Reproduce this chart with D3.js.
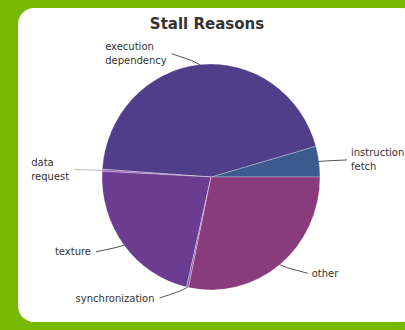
<!DOCTYPE html>
<html>
<head>
<meta charset="utf-8">
<script src="https://cdn.jsdelivr.net/npm/d3@7"></script>
<style>
  html, body { margin: 0; padding: 0; background: #76b900; }
  svg { display: block; }
</style>
</head>
<body>
<svg id="chart" width="405" height="330"></svg>
<script>
// ---- data ----
const title = "Stall Reasons";
const categories = ["instruction fetch", "execution dependency", "data request", "texture", "synchronization", "other"];
const labelLines = [["instruction", "fetch"], ["execution", "dependency"], ["data", "request"], ["texture"], ["synchronization"], ["other"]];
const values = [4.4, 44.5, 0.3, 22.2, 0.3, 28.3];
const colors = ["#3c5a8d", "#4f3e8a", "#9a64ad", "#6b3c90", "#8a5cae", "#8a3b7c"];

const svg = d3.select("#chart");

// panel
svg.append("rect")
  .attr("x", 18).attr("y", 8)
  .attr("width", 400).attr("height", 314)
  .attr("rx", 16).attr("ry", 16)
  .attr("fill", "#ffffff");

svg.append("text")
  .attr("x", 207).attr("y", 29)
  .attr("text-anchor", "middle")
  .attr("font-family", "DejaVu Sans, sans-serif")
  .attr("font-weight", "bold")
  .attr("font-size", 15)
  .attr("fill", "#333")
  .text(title);

const cx = 211, cy = 177, rx = 109, ry = 113;

const pie = d3.pie().sort(null)
  .startAngle(Math.PI / 2)
  .endAngle(Math.PI / 2 - 2 * Math.PI);
const arcs = pie(values);

const arc = d3.arc().innerRadius(0).outerRadius(rx);

const g = svg.append("g")
  .attr("transform", `translate(${cx},${cy}) scale(1,${ry / rx})`);

g.selectAll("path")
  .data(arcs)
  .join("path")
  .attr("d", arc)
  .attr("fill", (d, i) => colors[i])
  .attr("stroke", "rgba(255,255,255,0.35)")
  .attr("stroke-width", 0.8)
  .attr("vector-effect", "non-scaling-stroke");

// leader lines and labels
const lab = svg.append("g")
  .attr("font-family", "DejaVu Sans, sans-serif")
  .attr("font-size", 10)
  .attr("fill", "#333");

arcs.forEach((d, i) => {
  const a = (d.startAngle + d.endAngle) / 2;
  const xd = Math.sin(a), yd = -Math.cos(a);
  const ex = cx + rx * xd, ey = cy + ry * yd;
  const side = xd >= 0 ? 1 : -1;
  const lx = ex + side * 28, ly = ey + 11 * yd;
  lab.append("path")
    .attr("d", `M${ex},${ey}L${ex + side * 8},${ey + 4 * yd}L${lx},${ly}`)
    .attr("fill", "none")
    .attr("stroke", i === 2 ? "#bbb" : "#555")
    .attr("stroke-width", 1);
  const lines = labelLines[i];
  const lh = 14;
  const t = lab.append("text").attr("text-anchor", "start");
  const spans = lines.map((s, k) => t.append("tspan")
      .attr("y", ly + 3.5 + (k - (lines.length - 1) / 2) * lh)
      .text(s));
  const maxW = d3.max(spans, sp => sp.node().getComputedTextLength());
  const x0 = side > 0 ? lx + 4 : lx - 5 - maxW;
  spans.forEach(sp => sp.attr("x", x0));
});
</script>
</body>
</html>
